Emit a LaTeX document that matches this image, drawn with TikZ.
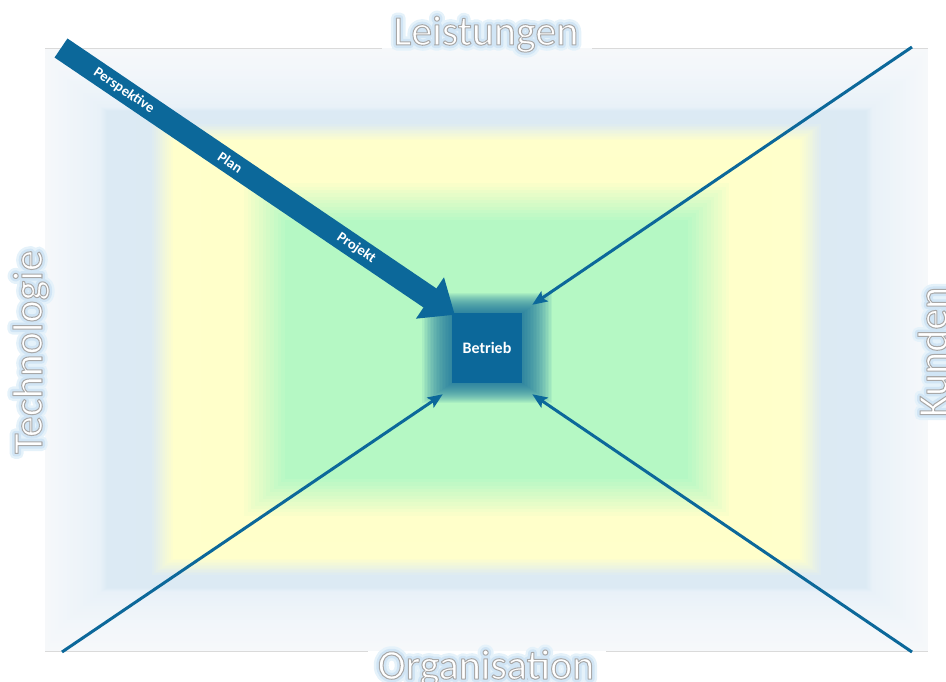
\documentclass[tikz,border=0pt]{standalone}
\usepackage{fontspec}
\setmainfont{Carlito}
\usetikzlibrary{arrows.meta,calc}
\definecolor{c0}{HTML}{F6F8FA}
\definecolor{c1}{HTML}{F2F6FA}
\definecolor{c2}{HTML}{E8F1F8}
\definecolor{c3}{HTML}{DCEAF4}
\definecolor{c4}{HTML}{DCEAF3}
\definecolor{c5}{HTML}{FFFFCB}
\definecolor{c6}{HTML}{FFFFCA}
\definecolor{c7}{HTML}{B5F8C4}
\definecolor{bx}{HTML}{0C689A}
\definecolor{framec}{HTML}{DADADA}
\tikzset{
  lbl/.style={anchor=base, inner sep=0pt, text=white, font=\fontsize{42}{48}\selectfont},
  thinarrow/.style={draw=bx, line width=3pt, -{Stealth[length=15pt,width=12pt,inset=3pt]}},
  bigarrow/.style={draw=bx, line width=23pt, -{Triangle[length=30pt,width=48pt]}},
  arrtxt/.style={text=white, font=\bfseries\fontsize{14.5}{16}\selectfont, sloped, inner sep=0pt},
  boxnode/.style={fill=bx, minimum width=70pt, minimum height=70pt, inner sep=0pt, text=white, font=\bfseries\fontsize{16}{18}\selectfont},
}
\newcommand\fxtext[1]{%
\rlap{\special{pdf:literal direct 1 Tr 11 w 1 j 1 J 0.90 0.95 0.98 RG}#1}%
\rlap{\special{pdf:literal direct 1 Tr 6 w 0.82 0.90 0.96 RG}#1}%
\special{pdf:literal direct 2 Tr 1 w 0.66 G}#1%
\special{pdf:literal direct 0 Tr 0.3985 w 0 j 0 J}}
\begin{document}
\begin{tikzpicture}[x=1pt,y=-1pt]
\useasboundingbox (0,0) rectangle (946,682);
% background gradient
\foreach \ha/\va/\ca/\hb/\vb/\cb in {0/0/c0/15/25/c1, 15/25/c1/55/59/c2, 55/59/c2/62/63/c3, 62/63/c3/105/75/c4, 105/75/c4/128/92/c5, 128/92/c5/195/132/c6, 195/132/c6/240/172/c7}{
  \foreach \j in {0,...,11}{
    \pgfmathsetmacro\hh{\ha+(\hb-\ha)*\j/12}
    \pgfmathsetmacro\vv{\va+(\vb-\va)*\j/12}
    \pgfmathsetmacro\pp{100*\j/12}
    \colorlet{mixc}{\cb!\pp!\ca}
    \fill[mixc] (45+\hh,48+\vv) rectangle (928-\hh,651-\vv);
  }
}
\fill[c7] (285,220) rectangle (688,479);
% frame
\draw[framec, line width=0.8pt] (45,48) -- (382,48) (592,48) -- (928,48);
\draw[framec, line width=0.8pt] (45,651) -- (368,651) (606,651) -- (928,651);
% centre box glow
\foreach \k in {1,...,20}{
  \fill[bx, opacity=0.065] (452-1.5*\k,313-1*\k) rectangle (522+1.5*\k,383+1*\k);
}
\node[boxnode] (betrieb) at (487,348) {Betrieb};
% connectors
\coordinate (ps) at (61,48);
\coordinate (tr) at (912,47);
\coordinate (bl) at (62,652);
\coordinate (br) at (912,652);
\draw[bigarrow] (ps) -- ($(betrieb.north west)+(3,2)$)
  node[arrtxt, pos=0.16] (t1) {Perspektive}
  node[arrtxt, pos=0.43] (t2) {Plan}
  node[arrtxt, pos=0.75] (t3) {Projekt};
\draw[thinarrow] (tr) -- ($(betrieb.north east)+(10,-8)$);
\draw[thinarrow] (bl) -- ($(betrieb.south west)+(-9,11)$);
\draw[thinarrow] (br) -- ($(betrieb.south east)+(10,11)$);
% labels
\node[lbl] (lei) at (486,45) {\fxtext{Leistungen}};
\node[lbl] (org) at (486,679) {\fxtext{Organisation}};
\node[lbl, rotate=90] (tec) at (42,352) {\fxtext{Technologie}};
\node[lbl, rotate=90] (kun) at (947,352) {\fxtext{Kunden}};
\end{tikzpicture}
\end{document}
